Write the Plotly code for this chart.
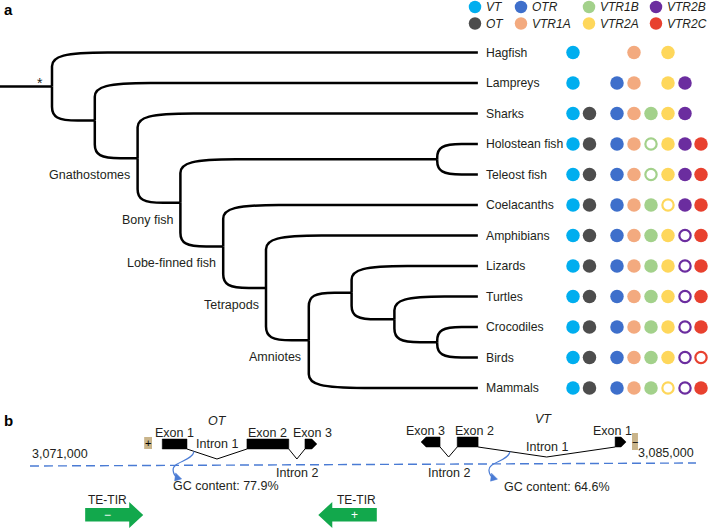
import plotly.graph_objects as go

W, H = 708, 529
FONT = "Liberation Sans, Arial, Helvetica, sans-serif"
INK = "#231f20"

# ---------------- panel a: data ----------------
TAXA = ["Hagfish", "Lampreys", "Sharks", "Holostean fish", "Teleost fish",
        "Coelacanths", "Amphibians", "Lizards", "Turtles", "Crocodiles",
        "Birds", "Mammals"]
GENES = ["VT", "OT", "OTR", "VTR1A", "VTR1B", "VTR2A", "VTR2B", "VTR2C"]
GENE_COLORS = ["#00aeef", "#4d4d4d", "#3e6fcb", "#f3aa7f", "#a3d18b",
               "#fed75b", "#6b2d9f", "#e8412f"]
# 1 = gene present (filled), 0.5 = gene lost (open circle), 0 = not shown
PRESENCE = {
    "VT":    [1, 1, 1, 1, 1, 1, 1, 1, 1, 1, 1, 1],
    "OT":    [0, 0, 1, 1, 1, 1, 1, 1, 1, 1, 1, 1],
    "OTR":   [0, 1, 1, 1, 1, 1, 1, 1, 1, 1, 1, 1],
    "VTR1A": [1, 1, 1, 1, 1, 1, 1, 1, 1, 1, 1, 1],
    "VTR1B": [0, 0, 1, 0.5, 0.5, 1, 1, 1, 1, 1, 1, 1],
    "VTR2A": [1, 1, 1, 1, 1, 0.5, 1, 1, 1, 1, 1, 0.5],
    "VTR2B": [0, 1, 1, 1, 1, 1, 0.5, 0.5, 0.5, 0.5, 0.5, 0.5],
    "VTR2C": [0, 0, 0, 1, 1, 1, 1, 1, 1, 1, 0.5, 1],
}
CLADE_LABELS = ["Gnathostomes", "Bony fish", "Lobe-finned fish", "Tetrapods", "Amniotes"]

# tree topology: (clade name, node depth, children)
ARCHOSAURS = ("Archosaurs", 9, ["Crocodiles", "Birds"])
TURTLE_ARCH = ("Archelosaurs", 8, ["Turtles", ARCHOSAURS])
SAUROPSIDS = ("Sauropsids", 7, ["Lizards", TURTLE_ARCH])
AMNIOTES = ("Amniotes", 6, [SAUROPSIDS, "Mammals"])
TETRAPODS = ("Tetrapods", 5, ["Amphibians", AMNIOTES])
LOBE = ("Lobe-finned fish", 4, ["Coelacanths", TETRAPODS])
ACTINO = ("Ray-finned fish", 9, ["Holostean fish", "Teleost fish"])
BONY = ("Bony fish", 3, [ACTINO, LOBE])
GNATH = ("Gnathostomes", 2, ["Sharks", BONY])
VERT = ("Vertebrates", 1, ["Lampreys", GNATH])
TREE = ("Root", 0, ["Hagfish", VERT])
TIP_DEPTH = 9.95

# ---------------- panel b: data ----------------
GENOME_START, GENOME_END = 3071000, 3085000
OT_EXON_START = [3073780, 3075560, 3076780]
OT_EXON_END = [3074300, 3076440, 3077030]
OT_EXON_NAMES = ["Exon 1", "Exon 2", "Exon 3"]
OT_EXON_TIPS = [None, None, "right"]
OT_INTRON_NAMES = ["Intron 1", "Intron 2"]
VT_EXON_START = [3079220, 3079980, 3083300]
VT_EXON_END = [3079620, 3080420, 3083530]
VT_EXON_NAMES = ["Exon 3", "Exon 2", "Exon 1"]
VT_EXON_TIPS = ["left", None, "right"]
VT_INTRON_NAMES = ["Intron 2", "Intron 1"]
STRAND_BOX_START = [3073400, 3083655]
STRAND_BOX_END = [3073565, 3083780]
STRAND_SIGN = ["+", "−"]
GENE_NAMES = ["OT", "VT"]
GENE_NAME_POS = [3074950, 3081800]
GC_CONTENT = [77.9, 64.6]
GC_ARROW_POS = [3074450, 3081090]
GC_LABEL_POS = [3073985, 3080945]
TE_START = [3072160, 3077060]
TE_END = [3073380, 3078290]
TE_SIGN = ["−", "+"]
TE_POINT = ["right", "left"]

# ---------------- layout scales ----------------
DEPTH_PX0, DEPTH_PX = 52.0, 42.8
ROW_PX0, ROW_PX = 52.5, 30.5
X_RANGE = [-DEPTH_PX0 / DEPTH_PX, (W - DEPTH_PX0) / DEPTH_PX]
Y_RANGE = [(H - ROW_PX0) / ROW_PX, -ROW_PX0 / ROW_PX]
LINE_PX0, LINE_PX1 = 30.0, 696.0
BPP = (GENOME_END - GENOME_START) / (LINE_PX1 - LINE_PX0)
X2_RANGE = [GENOME_START - LINE_PX0 * BPP, GENOME_START + (W - LINE_PX0) * BPP]


def ax(px):
    return (px - DEPTH_PX0) / DEPTH_PX


def ay(px):
    return (px - ROW_PX0) / ROW_PX


shapes, annotations, traces = [], [], []


def txt(x, y, s, size=12.5, xanchor="center", yanchor="middle", xref="x", yref="y",
        color=INK, italic=False, bold=False, xshift=0):
    if italic:
        s = "<i>" + s + "</i>"
    if bold:
        s = "<b>" + s + "</b>"
    annotations.append(dict(x=x, y=y, text=s, xref=xref, yref=yref, showarrow=False,
                            xanchor=xanchor, yanchor=yanchor, borderpad=0, xshift=xshift,
                            font=dict(family=FONT, size=size, color=color)))


def branch_path(d, m, rc, ex):
    s = 1 if rc < m else -1
    lc = min(1.3, 0.6 * (ex - d))
    p = f"M {d},{m} L {d},{rc + s * 0.45} "
    p += f"C {d},{rc + s * 0.12} {d + 0.22 * lc},{rc} {d + lc},{rc} "
    p += f"L {ex},{rc}"
    return p


def place(node):
    if isinstance(node, str):
        return TAXA.index(node), TIP_DEPTH
    label, depth, kids = node
    placed = [place(k) for k in kids]
    mid = (placed[0][0] + placed[-1][0]) / 2
    for row, end in placed:
        shapes.append(dict(type="path", path=branch_path(depth, mid, row, end),
                           xref="x", yref="y", line=dict(color="black", width=2.5)))
    if label in CLADE_LABELS:
        txt(depth - 0.15, mid + 0.55, label, xanchor="right")
    return mid, depth


root_mid, root_depth = place(TREE)
shapes.append(dict(type="line", xref="x", yref="y", x0=X_RANGE[0], x1=root_depth,
                   y0=root_mid, y1=root_mid, line=dict(color="black", width=2.5)))
txt(root_depth - 0.29, root_mid - 0.1, "*", size=14)

# tip labels
for i, t in enumerate(TAXA):
    txt(ax(485), i, t, xanchor="left", size=12.2)

# presence dots
COLUMN_PX = [573, 589.5, 617, 634, 651, 668, 685, 701]
for j, g in enumerate(GENES):
    filled = [i for i, v in enumerate(PRESENCE[g]) if v == 1]
    lost = [i for i, v in enumerate(PRESENCE[g]) if v == 0.5]
    traces.append(go.Scatter(x=[ax(COLUMN_PX[j])] * len(filled), y=filled, mode="markers",
                             marker=dict(size=13.5, color=GENE_COLORS[j], line=dict(width=0)),
                             xaxis="x", yaxis="y", showlegend=False, hoverinfo="skip",
                             cliponaxis=False))
    if lost:
        traces.append(go.Scatter(x=[ax(COLUMN_PX[j])] * len(lost), y=lost, mode="markers",
                                 marker=dict(size=11.3, symbol="circle-open", color=GENE_COLORS[j],
                                             line=dict(width=2.2, color=GENE_COLORS[j])),
                                 xaxis="x", yaxis="y", showlegend=False, hoverinfo="skip",
                                 cliponaxis=False))

# legend (2 rows x 4 columns)
LEG_X_PX = [475, 521, 589, 656]
LEG_Y_PX = [7, 23.5]
lx, ly, lc = [], [], []
for i, g in enumerate(GENES):
    cx, cy = LEG_X_PX[i // 2], LEG_Y_PX[i % 2]
    lx.append(ax(cx)); ly.append(ay(cy)); lc.append(GENE_COLORS[i])
    txt(ax(cx + 10), ay(cy), g, xanchor="left", italic=True, size=12)
traces.append(go.Scatter(x=lx, y=ly, mode="markers", marker=dict(size=12.5, color=lc),
                         xaxis="x", yaxis="y", showlegend=False, hoverinfo="skip",
                         cliponaxis=False))

# panel letters
txt(X2_RANGE[0] + 3 * BPP, 9, "a", size=15, xanchor="left", xref="x2", yref="y2", color="black", bold=True)
txt(X2_RANGE[0] + 3 * BPP, 420, "b", size=15, xanchor="left", xref="x2", yref="y2", color="black", bold=True)

# ---------------- panel b drawing ----------------
LINE_Y0, LINE_Y1 = 466, 463
shapes.append(dict(type="line", xref="x2", yref="y2", x0=GENOME_START, x1=GENOME_END,
                   y0=LINE_Y0, y1=LINE_Y1, line=dict(color="#4a7bd4", width=1.4, dash="9px,5px")))
txt(GENOME_START + 1 * BPP, 454, f"{GENOME_START:,}", size=12.5, xanchor="left", xref="x2", yref="y2")
txt(GENOME_END - 1 * BPP, 453, f"{GENOME_END:,}", size=12.5, xanchor="right", xref="x2", yref="y2")


def exon_path(s, e, tip, top, bot):
    t = 5 * BPP
    mid = (top + bot) / 2
    if tip == "right":
        pts = [(s, top), (e - t, top), (e, mid), (e - t, bot), (s, bot)]
    elif tip == "left":
        pts = [(s, mid), (s + t, top), (e, top), (e, bot), (s + t, bot)]
    else:
        pts = [(s, top), (e, top), (e, bot), (s, bot)]
    return "M " + " L ".join(f"{x},{y}" for x, y in pts) + " Z"


GENE_TOP = [439, 437]
EXON_LABEL_SHIFT = [[0, 0, 2], [-5, 7, -8]]
INTRON_LABEL_Y = [[444, 473], [473, 447]]
GC_LABEL_Y = [486, 487]
GENE_DATA = [
    (OT_EXON_START, OT_EXON_END, OT_EXON_NAMES, OT_EXON_TIPS, OT_INTRON_NAMES),
    (VT_EXON_START, VT_EXON_END, VT_EXON_NAMES, VT_EXON_TIPS, VT_INTRON_NAMES),
]
for gi, (starts, ends, names, tips, inames) in enumerate(GENE_DATA):
    top = GENE_TOP[gi]
    bot = top + 10
    apex = bot + 10
    for k in range(len(starts)):
        shapes.append(dict(type="path", xref="x2", yref="y2",
                           path=exon_path(starts[k], ends[k], tips[k], top, bot),
                           fillcolor="black", line=dict(color="black", width=0.5)))
        txt((starts[k] + ends[k]) / 2, top - 6.5, names[k], size=12.5, xref="x2", yref="y2",
            xshift=EXON_LABEL_SHIFT[gi][k])
    for k in range(len(starts) - 1):
        a, b = ends[k], starts[k + 1]
        shapes.append(dict(type="path", xref="x2", yref="y2",
                           path=f"M {a},{bot} L {(a + b) / 2},{apex} L {b},{bot}",
                           line=dict(color="black", width=1)))
        txt((a + b) / 2, INTRON_LABEL_Y[gi][k], inames[k], size=12.5, xref="x2", yref="y2")
    # gene name
    txt(GENE_NAME_POS[gi], top - 18, GENE_NAMES[gi], size=12.5, xref="x2", yref="y2", italic=True)
    # strand box
    bs, be = STRAND_BOX_START[gi], STRAND_BOX_END[gi]
    by0, by1 = (top - 2, bot) if gi == 0 else (top - 4, bot + 3)
    shapes.append(dict(type="rect", xref="x2", yref="y2", x0=bs, x1=be, y0=by0, y1=by1,
                       fillcolor="#c9b48a", line=dict(width=0)))
    txt((bs + be) / 2, (by0 + by1) / 2, STRAND_SIGN[gi], size=11, xref="x2", yref="y2", color="black")
    # GC content arrow
    sx = GC_ARROW_POS[gi]
    a0 = ends[0] if gi == 0 else ends[1]
    b0 = starts[1] if gi == 0 else starts[2]
    sy = bot + (apex - bot) * (sx - a0) / ((a0 + b0) / 2 - a0)

    def P(dx, dy):
        return f"{sx + dx * BPP},{sy + dy}"
    shapes.append(dict(type="path", xref="x2", yref="y2",
                       path=f"M {P(0, 0)} C {P(-2, 10)} {P(-22, 10)} {P(-21, 19)} Q {P(-20.5, 24)} {P(-17, 25.5)}",
                       line=dict(color="#4a7bd4", width=1.2)))
    shapes.append(dict(type="path", xref="x2", yref="y2",
                       path=f"M {P(-12.5, 27.5)} L {P(-18.5, 21.5)} L {P(-19.5, 29.5)} Z",
                       fillcolor="#4a7bd4", line=dict(color="#4a7bd4", width=0.5)))
    txt(GC_LABEL_POS[gi], GC_LABEL_Y[gi], f"GC content: {GC_CONTENT[gi]}%", size=12.5,
        xanchor="left", xref="x2", yref="y2")

# TE-TIR arrows
BODY_Y0, BODY_Y1, HEAD_Y0, HEAD_Y1 = 508, 521.5, 502, 528
for k in range(len(TE_START)):
    s, e = TE_START[k], TE_END[k]
    hl = 14 * BPP
    ym = (HEAD_Y0 + HEAD_Y1) / 2
    if TE_POINT[k] == "right":
        pts = [(s, BODY_Y0), (e - hl, BODY_Y0), (e - hl, HEAD_Y0), (e, ym), (e - hl, HEAD_Y1),
               (e - hl, BODY_Y1), (s, BODY_Y1)]
        body_c = (s + e - hl) / 2
        txt(s + 2 * BPP, 500, "TE-TIR", size=12, xanchor="left", xref="x2", yref="y2")
    else:
        pts = [(s, ym), (s + hl, HEAD_Y0), (s + hl, BODY_Y0), (e, BODY_Y0), (e, BODY_Y1),
               (s + hl, BODY_Y1), (s + hl, HEAD_Y1)]
        body_c = (s + hl + e) / 2
        txt(e, 500, "TE-TIR", size=12, xanchor="right", xref="x2", yref="y2")
    shapes.append(dict(type="path", xref="x2", yref="y2",
                       path="M " + " L ".join(f"{x},{y}" for x, y in pts) + " Z",
                       fillcolor="#12a84c", line=dict(width=0)))
    txt(body_c, (BODY_Y0 + BODY_Y1) / 2, TE_SIGN[k], size=12, xref="x2", yref="y2", color="white")

# anchor trace for panel b axes
traces.append(go.Scatter(x=[GENOME_START], y=[600], mode="markers", marker=dict(size=1, opacity=0),
                         xaxis="x2", yaxis="y2", showlegend=False, hoverinfo="skip"))

fig = go.Figure(data=traces)
axis_common = dict(visible=False, showgrid=False, zeroline=False, fixedrange=True, domain=[0, 1])
fig.update_layout(
    width=W, height=H, margin=dict(l=0, r=0, t=0, b=0),
    paper_bgcolor="white", plot_bgcolor="rgba(0,0,0,0)",
    xaxis=dict(range=X_RANGE, anchor="y", **axis_common),
    yaxis=dict(range=Y_RANGE, anchor="x", **axis_common),
    xaxis2=dict(range=X2_RANGE, anchor="y2", **axis_common),
    yaxis2=dict(range=[H, 0], anchor="x2", **axis_common),
    shapes=shapes, annotations=annotations, showlegend=False,
)
fig.write_html("out.html", config={"displayModeBar": False},
               post_script="document.body.style.margin='0';document.body.style.overflow='hidden';")
